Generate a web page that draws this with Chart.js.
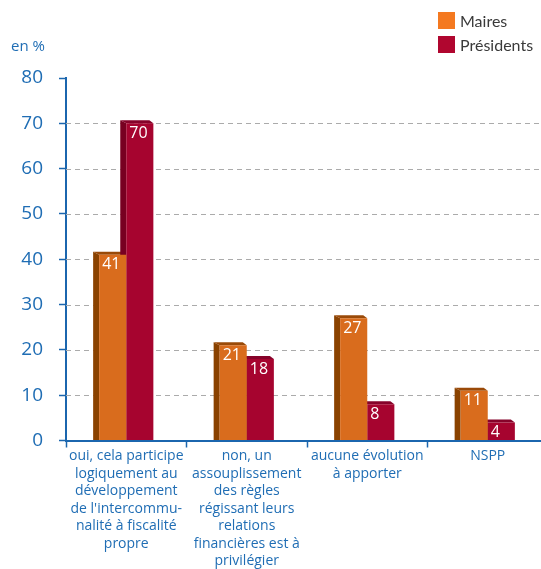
<!DOCTYPE html>
<html>
<head>
<meta charset="utf-8">
<script src="https://cdn.jsdelivr.net/npm/chart.js@4/dist/chart.umd.min.js"></script>
<style>
  html, body { margin: 0; padding: 0; background: #fff; overflow: hidden; width: 541px; height: 569px; }
  #wrap { position: relative; width: 550px; height: 569px; }
  #unit { position: absolute; left: 11px; top: 35px; font: 15px "Open Sans", sans-serif; color: #1F6DB4; }
  #legend { position: absolute; left: 438px; top: 8px; font: 16px "Lato", sans-serif; color: #3a3a3a; }
  .li { display: flex; align-items: center; height: 24px; white-space: nowrap; }
  .sw { width: 17px; height: 17px; margin-right: 5px; flex: none; }
</style>
</head>
<body>
<div id="wrap">
  <canvas id="c" width="550" height="569"></canvas>
  <div id="unit">en %</div>
  <div id="legend"></div>
</div>
<script>
const categories = [
  ["oui, cela participe","logiquement au","développement","de l'intercommu-","nalité à fiscalité","propre"],
  ["non, un","assouplissement","des règles","régissant leurs","relations","financières est à","privilégier"],
  ["aucune évolution","à apporter"],
  ["NSPP"]
];
const seriesNames = ["Maires", "Présidents"];
const maires = [41, 21, 27, 11];
const presidents = [70, 18, 8, 4];
const yTickValues = [0, 10, 20, 30, 40, 50, 60, 70, 80];

const frontColors = ["#D96C1D", "#A6042F"];
const sideColors = ["#8A4200", "#780021"];
const topColors = ["#9A4A08", "#86032A"];
const legendColors = ["#F47920", "#B0062F"];
const BLUE = "#1F6DB4";
const AXIS = "#1B66AE";

const legend = document.getElementById('legend');
seriesNames.forEach((n, i) => {
  const d = document.createElement('div'); d.className = 'li';
  d.innerHTML = '<div class="sw" style="background:' + legendColors[i] + '"></div><span>' + n + '</span>';
  legend.appendChild(d);
});

const DX = 6, DY = 3;
const bar3d = {
  id: 'bar3d',
  beforeDatasetsDraw(chart) {
    const ctx = chart.ctx, area = chart.chartArea, ys = chart.scales.y;
    ctx.save();
    ctx.strokeStyle = '#ABABAB';
    ctx.lineWidth = 1;
    ctx.setLineDash([5, 4]);
    yTickValues.forEach(v => {
      if (v === 0 || v === 80) return;
      const y = Math.round(ys.getPixelForValue(v)) + 0.5;
      ctx.beginPath(); ctx.moveTo(area.left, y); ctx.lineTo(area.right, y); ctx.stroke();
    });
    ctx.setLineDash([]);
    chart.data.datasets.forEach((ds, di) => {
      chart.getDatasetMeta(di).data.forEach(el => {
        const l = el.x - el.width / 2, r = el.x + el.width / 2, t = el.y, b = el.base;
        ctx.fillStyle = sideColors[di];
        ctx.beginPath();
        ctx.moveTo(l - DX, t - DY); ctx.lineTo(l, t); ctx.lineTo(l, b); ctx.lineTo(l - DX, b);
        ctx.closePath(); ctx.fill();
        ctx.fillStyle = topColors[di];
        ctx.beginPath();
        ctx.moveTo(l - DX, t - DY); ctx.lineTo(r - 4, t - DY); ctx.lineTo(r, t); ctx.lineTo(l, t);
        ctx.closePath(); ctx.fill();
      });
    });
    ctx.restore();
  },
  afterDatasetsDraw(chart) {
    const ctx = chart.ctx;
    ctx.save();
    ctx.fillStyle = '#fff';
    ctx.font = '16px "Open Sans", sans-serif';
    ctx.textBaseline = 'top';
    ctx.textAlign = 'left';
    chart.data.datasets.forEach((ds, di) => {
      chart.getDatasetMeta(di).data.forEach((el, i) => {
        const l = el.x - el.width / 2;
        ctx.fillText(String(ds.data[i]), l + 3, el.y + 2);
      });
    });
    ctx.restore();
  }
};

new Chart(document.getElementById('c'), {
  type: 'bar',
  data: {
    labels: categories,
    datasets: [
      { label: seriesNames[0], data: maires, backgroundColor: frontColors[0] },
      { label: seriesNames[1], data: presidents, backgroundColor: frontColors[1] }
    ]
  },
  options: {
    responsive: false,
    animation: false,
    events: [],
    layout: { padding: { top: 78, right: 2, left: 0, bottom: 0 } },
    datasets: { bar: { barPercentage: 1, categoryPercentage: 0.45 } },
    plugins: { legend: { display: false }, tooltip: { enabled: false } },
    scales: {
      x: {
        grid: { offset: true, drawOnChartArea: false, tickColor: AXIS, tickLength: 7, tickWidth: 1.5 },
        border: { color: AXIS, width: 2 },
        ticks: { color: BLUE, font: { family: '"Open Sans", sans-serif', size: 14, lineHeight: 1.25 }, padding: 0, maxRotation: 0, autoSkip: false },
        afterFit(s) { s.height = 569 - 440.5; }
      },
      y: {
        min: 0, max: 80,
        afterBuildTicks(s) { s.ticks = yTickValues.map(v => ({ value: v })); },
        grid: { drawOnChartArea: false, tickColor: AXIS, tickLength: 7, tickWidth: 1.5 },
        border: { color: AXIS, width: 2 },
        ticks: { color: BLUE, font: { family: '"Open Sans", sans-serif', size: 19 }, padding: 16 },
        afterFit(s) { s.width = 66; }
      }
    }
  },
  plugins: [bar3d]
});
</script>
</body>
</html>
